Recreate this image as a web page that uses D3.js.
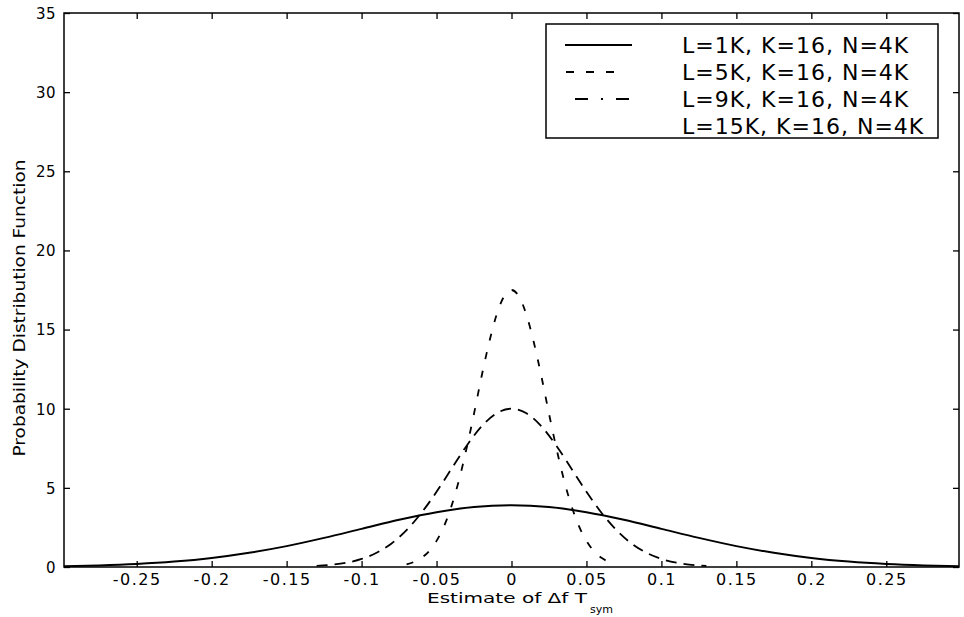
<!DOCTYPE html>
<html>
<head>
<meta charset="utf-8">
<script src="https://cdn.jsdelivr.net/npm/d3@7"></script>
<style>
  html, body { margin: 0; padding: 0; background: #fff; }
  svg { display: block; }
  text { fill: #000; font-family: "DejaVu Sans", "Liberation Sans", sans-serif; }
</style>
</head>
<body>
<svg id="chart" width="964" height="617"></svg>
<script>
// ---------------- data ----------------
const xTicks = [-0.25, -0.2, -0.15, -0.1, -0.05, 0, 0.05, 0.1, 0.15, 0.2, 0.25];
const xTickLabels = ["-0.25", "-0.2", "-0.15", "-0.1", "-0.05", "0", "0.05", "0.1", "0.15", "0.2", "0.25"];
const yTicks = [0, 5, 10, 15, 20, 25, 30, 35];
const yTickLabels = ["0", "5", "10", "15", "20", "25", "30", "35"];

const legendLabels = ["L=1K, K=16, N=4K", "L=5K, K=16, N=4K", "L=9K, K=16, N=4K", "L=15K, K=16, N=4K"];

// L=1K (solid, wide)
const wideX = [-0.3, -0.275, -0.25, -0.225, -0.2, -0.175, -0.15, -0.125, -0.1, -0.075, -0.05, -0.025, 0,
               0.025, 0.05, 0.075, 0.1, 0.125, 0.15, 0.175, 0.2, 0.225, 0.25, 0.275, 0.3];
const wideY = [0.05, 0.10, 0.19, 0.34, 0.57, 0.90, 1.32, 1.84, 2.41, 2.98, 3.46, 3.79, 3.90,
               3.79, 3.46, 2.98, 2.41, 1.84, 1.32, 0.90, 0.57, 0.34, 0.19, 0.10, 0.05];

// medium peak (~10)
const midX = [-0.13, -0.12, -0.11, -0.1, -0.09, -0.08, -0.07, -0.06, -0.05, -0.04, -0.03, -0.02, -0.01, 0,
              0.01, 0.02, 0.03, 0.04, 0.05, 0.06, 0.07, 0.08, 0.09, 0.1, 0.11, 0.12, 0.13];
const midY = [0.07, 0.14, 0.27, 0.51, 0.90, 1.49, 2.33, 3.43, 4.75, 6.21, 7.65, 8.88, 9.71, 10.0,
              9.71, 8.88, 7.65, 6.21, 4.75, 3.43, 2.33, 1.49, 0.90, 0.51, 0.27, 0.14, 0.07];

// tall peak (~17.5)
const tallX = [-0.07, -0.065, -0.06, -0.055, -0.05, -0.045, -0.04, -0.035, -0.03, -0.025, -0.02, -0.015, -0.01, -0.005, 0,
               0.005, 0.01, 0.015, 0.02, 0.025, 0.03, 0.035, 0.04, 0.045, 0.05, 0.055, 0.06, 0.065, 0.07];
const tallY = [0.17, 0.32, 0.58, 1.00, 1.65, 2.58, 3.86, 5.50, 7.48, 9.69, 12.02, 14.15, 15.92, 17.09, 17.5,
               17.09, 15.92, 14.15, 12.02, 9.69, 7.48, 5.50, 3.86, 2.58, 1.65, 1.00, 0.58, 0.32, 0.17];

// ---------------- layout ----------------
(function () {
const svg = d3.select("#chart");
const pL = 64, pR = 959, pT = 13, pB = 567;

const x = d3.scaleLinear().domain([-0.2985, 0.2985]).range([pL, pR]);
const y = d3.scaleLinear().domain([0, 35]).range([pB, pT]);

const series = [
  { xs: wideX, ys: wideY, dash: null, width: 2.0 },
  { xs: midX, ys: midY, dash: "11,7", width: 1.8 },
  { xs: tallX, ys: tallY, dash: "7,12", width: 1.8 }
];

svg.append("defs").append("clipPath").attr("id", "plotclip")
  .append("rect").attr("x", pL).attr("y", pT).attr("width", pR - pL).attr("height", pB - pT);

const line = d3.line().x(d => x(d[0])).y(d => y(d[1])).curve(d3.curveMonotoneX);

const plot = svg.append("g").attr("clip-path", "url(#plotclip)");
series.forEach(s => {
  const pts = s.xs.map((v, i) => [v, s.ys[i]]);
  plot.append("path")
    .attr("d", line(pts))
    .attr("fill", "none")
    .attr("stroke", "#000")
    .attr("stroke-width", s.width)
    .attr("stroke-dasharray", s.dash);
});

// ---------------- axes (ticks inside, all four sides) ----------------
const tickLen = 6;
const axBottom = d3.axisBottom(x).tickValues(xTicks).tickSize(-tickLen).tickSizeOuter(0)
  .tickFormat((d, i) => xTickLabels[i]).tickPadding(7);
const axTop = d3.axisTop(x).tickValues(xTicks).tickSize(-tickLen).tickSizeOuter(0).tickFormat("");
const axLeft = d3.axisLeft(y).tickValues(yTicks).tickSize(-tickLen).tickSizeOuter(0)
  .tickFormat((d, i) => yTickLabels[i]).tickPadding(8);
const axRight = d3.axisRight(y).tickValues(yTicks).tickSize(-tickLen).tickSizeOuter(0).tickFormat("");

const gB = svg.append("g").attr("transform", `translate(0,${pB})`).call(axBottom);
const gT = svg.append("g").attr("transform", `translate(0,${pT})`).call(axTop);
const gL = svg.append("g").attr("transform", `translate(${pL},0)`).call(axLeft);
const gR = svg.append("g").attr("transform", `translate(${pR},0)`).call(axRight);

[gB, gT, gL, gR].forEach(g => {
  g.select(".domain").remove();
  g.selectAll(".tick line").attr("stroke", "#000").attr("stroke-width", 1.3);
});
gB.selectAll(".tick text").attr("font-size", 16).attr("letter-spacing", "1.5px")
  .attr("font-family", "DejaVu Sans").attr("fill", "#000");
gL.selectAll(".tick text").attr("font-size", 15).attr("letter-spacing", "0.5px")
  .attr("font-family", "DejaVu Sans").attr("fill", "#000").attr("dy", "0.36em");

// frame
svg.append("rect").attr("x", pL).attr("y", pT).attr("width", pR - pL).attr("height", pB - pT)
  .attr("fill", "none").attr("stroke", "#000").attr("stroke-width", 1.5);

// ---------------- axis titles ----------------
svg.append("text")
  .attr("transform", "translate(25,308) rotate(-90)")
  .attr("text-anchor", "middle")
  .attr("font-family", "Liberation Sans, Arial, sans-serif")
  .attr("font-size", 16)
  .attr("textLength", 297)
  .attr("lengthAdjust", "spacingAndGlyphs")
  .text("Probability Distribution Function");

svg.append("text")
  .attr("x", 427).attr("y", 603)
  .attr("font-family", "Liberation Sans, Arial, sans-serif")
  .attr("font-size", 14)
  .attr("textLength", 160)
  .attr("lengthAdjust", "spacingAndGlyphs")
  .text("Estimate of \u0394f T");
svg.append("text")
  .attr("x", 590).attr("y", 613)
  .attr("font-family", "Liberation Sans, Arial, sans-serif")
  .attr("font-size", 11)
  .attr("textLength", 23)
  .attr("lengthAdjust", "spacingAndGlyphs")
  .text("sym");

// ---------------- legend ----------------
const leg = svg.append("g");
leg.append("rect").attr("x", 546).attr("y", 24).attr("width", 392).attr("height", 114)
  .attr("fill", "#fff").attr("stroke", "#000").attr("stroke-width", 1.5);

const legendStyles = [
  { dash: null, x1: 565, x2: 632, w: 2 },
  { dash: "8,12", x1: 566, x2: 624, w: 1.8 },
  { dash: "13,13,2,13", x1: 575, x2: 638, w: 1.8 },
  null
];
const rowY = [45, 72, 99, 126];
legendLabels.forEach((lab, i) => {
  const st = legendStyles[i];
  if (st) {
    leg.append("line").attr("x1", st.x1).attr("x2", st.x2).attr("y1", rowY[i]).attr("y2", rowY[i])
      .attr("stroke", "#000").attr("stroke-width", st.w).attr("stroke-dasharray", st.dash);
  }
  leg.append("text").attr("x", 682).attr("y", rowY[i] + 8)
    .attr("font-family", "DejaVu Sans").attr("font-size", 22).attr("letter-spacing", "1px")
    .text(lab);
});
})();
</script>
</body>
</html>
